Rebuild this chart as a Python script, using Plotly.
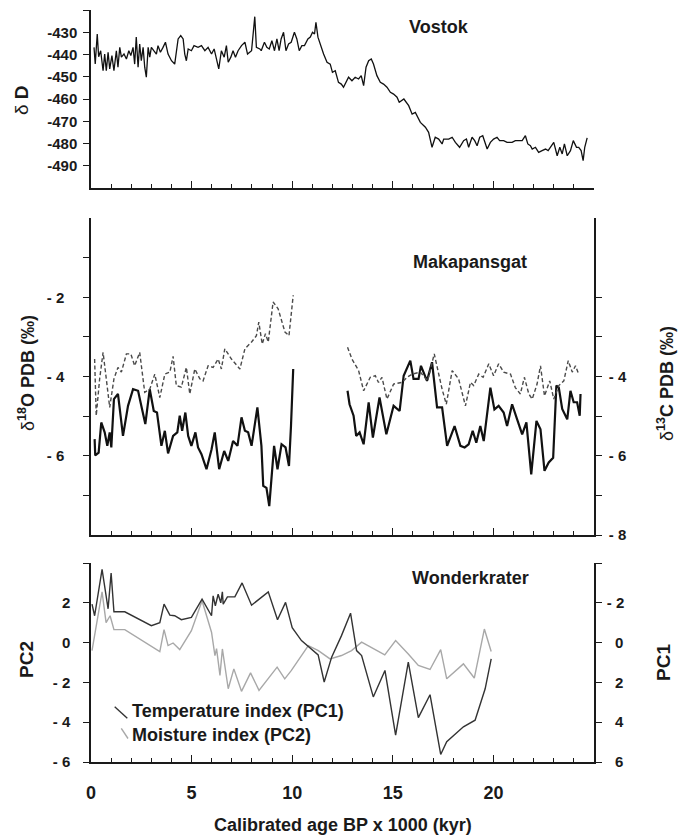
import plotly.graph_objects as go

# ---------------- Vostok (deltaD) ----------------
vostok_age = [0.15, 0.21, 0.31, 0.38, 0.48, 0.60, 0.68, 0.76, 0.85, 0.93, 1.04, 1.14, 1.26, 1.34, 1.43,
              1.51, 1.64, 1.76, 1.88, 1.98, 2.09, 2.17, 2.25, 2.34, 2.42, 2.50, 2.59, 2.67, 2.75, 2.84,
              2.92, 3.00, 3.12, 3.25, 3.33, 3.45, 3.58, 3.70, 3.83, 4.00, 4.16, 4.33, 4.46, 4.58, 4.66,
              4.74, 4.83, 4.99, 5.12, 5.32, 5.49, 5.66, 5.82, 5.99, 6.12, 6.23, 6.35, 6.48, 6.62, 6.73,
              6.82, 6.95, 7.06, 7.18, 7.31, 7.48, 7.65, 7.78, 7.98, 8.14, 8.22, 8.39, 8.46, 8.62, 8.74,
              8.86, 8.99, 9.12, 9.24, 9.35, 9.45, 9.57, 9.69, 9.82, 9.95, 10.11, 10.23, 10.35, 10.48,
              10.61, 10.78, 10.90, 11.01, 11.11, 11.18, 11.28, 11.39, 11.56, 11.73, 11.89, 12.00, 12.14,
              12.30, 12.44, 12.55, 12.67, 12.80, 12.97, 13.13, 13.30, 13.43, 13.55, 13.67, 13.80, 13.93,
              14.04, 14.21, 14.38, 14.54, 14.71, 14.88, 15.04, 15.21, 15.32, 15.55, 15.79, 15.96, 16.12,
              16.37, 16.62, 16.78, 16.95, 17.11, 17.28, 17.45, 17.53, 17.78, 17.95, 18.11, 18.32, 18.52,
              18.66, 18.77, 18.94, 19.07, 19.19, 19.32, 19.47, 19.69, 19.85, 20.01, 20.18, 20.31, 20.51,
              20.68, 20.93, 21.09, 21.26, 21.43, 21.59, 21.71, 21.84, 21.93, 22.09, 22.25, 22.42, 22.59,
              22.72, 22.87, 23.00, 23.17, 23.30, 23.42, 23.53, 23.67, 23.83, 23.97, 24.13, 24.24, 24.36,
              24.46, 24.54, 24.66]
vostok_dD = [-436.8, -444.3, -430.8, -441.0, -438.3, -447.3, -439.8, -447.3, -439.0, -446.5, -440.5, -447.3,
             -438.3, -445.7, -436.8, -441.2, -439.8, -442.0, -438.3, -440.5, -436.8, -444.3, -432.2, -445.7,
             -435.3, -442.8, -436.8, -445.7, -450.2, -436.8, -441.2, -436.8, -438.3, -439.8, -436.0, -439.0,
             -436.8, -434.5, -439.8, -442.8, -444.3, -433.0, -431.5, -433.0, -439.8, -442.8, -437.5, -438.3,
             -436.0, -436.8, -436.0, -438.3, -436.8, -439.8, -437.5, -441.2, -446.5, -438.3, -441.2, -436.0,
             -443.5, -441.2, -438.3, -441.2, -438.3, -436.0, -434.5, -439.8, -438.3, -423.0, -436.8, -437.5,
             -438.3, -434.5, -436.8, -437.5, -433.8, -438.3, -433.0, -438.3, -433.0, -430.0, -438.3, -435.3,
             -434.5, -430.0, -433.0, -438.3, -436.0, -436.0, -433.0, -432.2, -430.0, -430.8, -425.5, -432.2,
             -435.3, -439.8, -443.5, -444.3, -448.0, -447.3, -452.5, -453.3, -454.7, -452.5, -450.2, -451.8,
             -450.2, -451.0, -449.5, -454.0, -445.7, -442.8, -442.0, -444.3, -449.5, -452.5, -453.3, -454.7,
             -457.0, -457.8, -459.2, -461.5, -460.0, -463.0, -466.8, -466.0, -470.5, -472.7, -475.0, -481.7,
             -477.2, -478.0, -480.2, -478.0, -478.0, -477.2, -479.5, -481.7, -478.7, -478.0, -481.7, -477.2,
             -478.7, -481.0, -477.2, -476.5, -482.5, -479.5, -478.0, -477.2, -478.7, -478.7, -479.5, -479.5,
             -478.7, -478.7, -478.7, -476.5, -480.2, -481.0, -482.5, -481.7, -484.0, -483.2, -482.5, -483.2,
             -481.0, -479.5, -485.5, -481.7, -484.7, -480.2, -485.5, -483.2, -478.7, -481.7, -481.7, -483.2,
             -487.7, -481.7, -477.5]

# ---------------- Makapansgat ----------------
# delta18O (solid), two segments
mak_o_age_a = [0.18, 0.21, 0.38, 0.51, 0.68, 0.81, 0.93, 1.01, 1.14, 1.34, 1.59, 1.84, 2.09, 2.34, 2.50,
               2.70, 2.92, 3.12, 3.28, 3.50, 3.67, 3.83, 4.08, 4.29, 4.41, 4.53, 4.69, 4.83, 4.99, 5.19,
               5.32, 5.49, 5.74, 5.99, 6.15, 6.37, 6.62, 6.82, 7.06, 7.28, 7.48, 7.65, 7.81, 7.98, 8.27,
               8.47, 8.56, 8.72, 8.86, 8.97, 9.10, 9.27, 9.47, 9.67, 9.84, 9.94, 10.05]
mak_o_a = [-5.58, -5.99, -5.92, -5.16, -5.41, -5.75, -5.41, -5.79, -4.57, -4.44, -5.50, -4.74, -4.32, -4.36,
           -4.74, -5.20, -4.32, -4.87, -4.91, -5.75, -5.37, -5.94, -5.50, -5.41, -4.99, -5.37, -4.91, -5.50,
           -5.75, -5.41, -5.79, -5.96, -6.34, -5.84, -5.41, -6.34, -5.88, -6.13, -5.63, -5.75, -5.03, -5.37,
           -5.41, -5.75, -4.78, -5.75, -6.76, -6.81, -7.27, -6.60, -5.75, -6.34, -5.71, -5.79, -6.26, -5.25,
           -3.81]
mak_o_age_b = [12.75, 12.85, 13.05, 13.18, 13.35, 13.55, 13.80, 14.01, 14.34, 14.68, 15.04, 15.34, 15.54,
               15.87, 16.03, 16.28, 16.40, 16.70, 16.95, 17.20, 17.45, 17.70, 18.07, 18.36, 18.57, 18.77,
               18.97, 19.15, 19.35, 19.52, 19.85, 20.05, 20.26, 20.51, 20.68, 20.93, 21.18, 21.43, 21.64,
               21.88, 22.14, 22.34, 22.54, 22.75, 22.97, 23.13, 23.25, 23.42, 23.67, 23.83, 23.99, 24.16,
               24.29, 24.33]
mak_o_b = [-4.36, -4.70, -4.99, -5.50, -5.41, -5.71, -4.65, -5.54, -4.53, -5.46, -4.74, -4.87, -3.98, -3.60,
           -4.06, -4.06, -3.73, -4.11, -3.64, -4.78, -4.78, -5.75, -5.25, -5.75, -5.79, -5.71, -5.37, -5.67,
           -5.25, -5.63, -4.28, -4.83, -4.74, -4.91, -5.25, -4.70, -5.08, -5.46, -5.16, -6.47, -5.12, -5.33,
           -6.38, -6.17, -6.05, -4.23, -4.28, -4.82, -5.08, -4.36, -4.65, -4.65, -4.99, -4.44]
# delta13C (dashed), two segments
mak_c_age_a = [0.18, 0.26, 0.43, 0.60, 0.76, 0.93, 1.14, 1.34, 1.51, 1.76, 1.98, 2.17, 2.42, 2.67, 2.92,
               3.17, 3.42, 3.67, 3.92, 4.08, 4.24, 4.49, 4.74, 4.91, 5.16, 5.41, 5.57, 5.82, 6.07, 6.32,
               6.48, 6.65, 6.98, 7.40, 7.65, 7.98, 8.22, 8.34, 8.51, 8.67, 8.81, 9.05, 9.30, 9.64, 9.84,
               10.05]
mak_c_a = [-3.56, -4.99, -4.06, -3.39, -4.06, -4.78, -4.06, -3.77, -3.89, -3.43, -3.43, -3.73, -3.39, -4.40,
           -4.32, -3.94, -4.53, -3.94, -3.89, -3.49, -4.23, -4.27, -3.77, -4.44, -3.81, -4.06, -4.11, -3.73,
           -3.77, -3.56, -3.81, -3.30, -3.56, -3.81, -3.30, -3.13, -2.97, -2.63, -3.18, -2.92, -3.13, -2.12,
           -2.29, -2.88, -2.97, -1.95]
mak_c_age_b = [12.75, 12.97, 13.30, 13.55, 13.88, 14.13, 14.29, 14.46, 14.71, 15.04, 15.46, 15.71, 15.96,
               16.37, 16.73, 17.06, 17.45, 17.66, 17.95, 18.27, 18.61, 18.86, 19.02, 19.27, 19.49, 19.77,
               20.01, 20.26, 20.51, 20.85, 21.09, 21.34, 21.54, 21.76, 21.93, 22.17, 22.34, 22.54, 22.80,
               23.00, 23.25, 23.50, 23.72, 23.92, 24.08, 24.24]
mak_c_b = [-3.26, -3.56, -3.85, -4.36, -4.02, -3.98, -4.15, -4.02, -4.57, -4.19, -4.15, -4.02, -3.94, -3.89,
           -4.11, -3.43, -4.32, -4.70, -3.85, -4.06, -4.74, -4.15, -4.23, -3.94, -4.02, -3.68, -3.98, -3.68,
           -3.89, -3.94, -4.28, -4.44, -4.02, -4.44, -4.57, -4.19, -3.73, -4.49, -4.11, -4.57, -4.23, -4.11,
           -3.60, -3.89, -3.73, -3.94]

# ---------------- Wonderkrater ----------------
wk_temp_age = [0.05, 0.18, 0.55, 0.85, 1.00, 1.14, 1.68, 3.00, 3.42, 3.63, 3.92, 4.16, 4.49, 4.99, 5.52,
               5.99, 6.07, 6.18, 6.32, 6.45, 6.53, 6.57, 6.78, 7.15, 7.51, 7.98, 8.81, 9.27, 9.67, 10.00,
               10.46, 10.83, 11.29, 11.59, 11.96, 12.45, 12.90, 13.20, 13.45, 14.03, 14.61, 15.14, 15.77,
               16.27, 16.85, 17.38, 17.68, 18.51, 19.09, 19.59, 19.89]
wk_pc1 = [-1.93, -1.35, -3.68, -1.70, -3.50, -1.55, -1.55, -0.85, -1.00, -1.93, -1.38, -1.35, -1.15, -1.27,
          -2.18, -1.35, -2.35, -1.85, -2.43, -2.00, -2.55, -1.93, -2.30, -2.30, -3.00, -1.88, -2.55, -1.15,
          -2.02, -0.75, -0.10, 0.23, 0.62, 1.98, 0.73, -0.35, -1.48, 0.40, 0.65, 2.73, 1.40, 4.65, 0.98,
          3.77, 2.62, 5.62, 4.98, 4.23, 3.90, 2.32, 0.82]
wk_moist_age = [0.05, 0.18, 0.55, 0.75, 0.95, 1.14, 1.68, 3.42, 3.63, 3.83, 4.08, 4.41, 4.99, 5.52, 5.99,
                6.16, 6.24, 6.41, 6.53, 6.82, 7.10, 7.48, 7.93, 8.35, 9.25, 9.63, 9.96, 10.80, 11.30, 11.88,
                12.45, 12.95, 13.45, 14.60, 15.14, 15.77, 16.27, 16.85, 17.38, 17.68, 18.51, 19.05, 19.55,
                19.89]
wk_pc2 = [-0.40, 0.35, 2.55, 1.00, 1.35, 0.65, 0.65, -0.45, 0.65, -0.15, -0.02, -0.35, 0.60, 2.10, 0.52,
          -0.65, -0.30, -1.65, -0.32, -2.32, -1.32, -2.45, -1.52, -2.40, -1.23, -1.82, -1.40, -0.15, -0.40,
          -0.82, -0.65, -0.40, 0.02, -0.62, 0.10, -0.57, -1.15, -1.35, -0.35, -1.82, -1.07, -1.78, 0.68,
          -0.45]

# ---------------- Axis ticks / labels ----------------
vostok_tickvals = [-430, -440, -450, -460, -470, -480, -490]
vostok_ticktext = ["-430", "-440", "-450", "-460", "-470", "-480", "-490"]
vostok_minorvals = [-420]
mak_left_tickvals = [-2, -4, -6]
mak_left_ticktext = ["- 2", "- 4", "- 6"]
mak_left_minorvals = [-1, -3, -5, -7]
mak_right_tickvals = [-4, -6, -8]
mak_right_ticktext = ["- 4", "- 6", "- 8"]
mak_right_minorvals = [-2, -3, -5, -7]
pc2_tickvals = [2, 0, -2, -4, -6]
pc2_ticktext = ["2", "0", "- 2", "- 4", "- 6"]
pc2_minorvals = [4]
pc1_tickvals = [-2, 0, 2, 4, 6]
pc1_ticktext = ["- 2", "\u00a0\u00a00", "\u00a0\u00a02", "\u00a0\u00a04", "\u00a0\u00a06"]
pc1_minorvals = [-4]
x_tickvals = [0, 5, 10, 15, 20]
x_ticktext = ["0", "5", "10", "15", "20"]

FONT = "Liberation Sans"
INK = "#1a1a1a"

# plot area geometry (pixels)
W, H = 686, 837
L, R, T, B = 91, 92, 10, 75
PW, PH = W - L - R, H - T - B


def py(p):
    return (H - B - p) / PH


def px(p):
    return (p - L) / PW


fig = go.Figure()

fig.add_trace(go.Scatter(x=vostok_age, y=vostok_dD, mode="lines",
                         line=dict(color="#111111", width=1.3), xaxis="x", yaxis="y"))

fig.add_trace(go.Scatter(x=mak_c_age_a + [None] + mak_c_age_b, y=mak_c_a + [None] + mak_c_b, mode="lines",
                         line=dict(color="#4a4a4a", width=1.4, dash="4px,2.5px"), xaxis="x2", yaxis="y3",
                         connectgaps=False))
fig.add_trace(go.Scatter(x=mak_o_age_a + [None] + mak_o_age_b, y=mak_o_a + [None] + mak_o_b, mode="lines",
                         line=dict(color="#111111", width=2.2), xaxis="x2", yaxis="y2",
                         connectgaps=False))

fig.add_trace(go.Scatter(x=wk_moist_age, y=wk_pc2, mode="lines",
                         line=dict(color="#a8a8a8", width=1.4), xaxis="x3", yaxis="y4"))
fig.add_trace(go.Scatter(x=wk_temp_age, y=wk_pc1, mode="lines",
                         line=dict(color="#333333", width=1.4), xaxis="x3", yaxis="y5"))

xcommon = dict(range=[0, 25], showline=True, linecolor=INK, linewidth=1.5, ticks="inside",
               tickmode="array", tickvals=x_tickvals, ticklen=7, tickwidth=1.3, tickcolor=INK,
               minor=dict(tickmode="linear", tick0=0, dtick=1, ticks="inside", ticklen=4, tickwidth=1.1,
                          tickcolor=INK),
               showgrid=False, zeroline=False, fixedrange=True)

ycommon = dict(showline=True, linecolor=INK, linewidth=1.5, ticks="outside", ticklen=6, tickwidth=1.3,
               tickcolor=INK, showgrid=False, zeroline=False,
               tickfont=dict(family=FONT, size=15, color=INK, weight="bold"))


def yminor(vals):
    return dict(tickmode="array", tickvals=vals, ticks="outside", ticklen=6, tickwidth=1.3, tickcolor=INK,
                showgrid=False)


fig.update_layout(
    width=W, height=H, margin=dict(l=L, r=R, t=T, b=B),
    paper_bgcolor="white", plot_bgcolor="white", showlegend=False,
    font=dict(family=FONT, color=INK),
    xaxis=dict(xcommon, anchor="y", showticklabels=False),
    xaxis2=dict(xcommon, anchor="y2", showticklabels=False, matches="x"),
    xaxis3=dict(xcommon, anchor="y4", showticklabels=True, ticktext=x_ticktext,
                tickfont=dict(family=FONT, size=18, color=INK, weight="bold"), ticklabelstandoff=14,
                matches="x"),
    yaxis=dict(ycommon, domain=[py(188), py(10)], range=[-500, -420], tickmode="array",
               tickvals=vostok_tickvals, ticktext=vostok_ticktext, minor=yminor(vostok_minorvals),
               anchor="x", ticklabelstandoff=3),
    yaxis2=dict(ycommon, domain=[py(535), py(218)], range=[-8, 0], tickmode="array",
                tickvals=mak_left_tickvals, ticktext=mak_left_ticktext, minor=yminor(mak_left_minorvals),
                anchor="x2", ticklabelstandoff=16),
    yaxis3=dict(ycommon, domain=[py(535), py(218)], range=[-8, 0], tickmode="array",
                tickvals=mak_right_tickvals, ticktext=mak_right_ticktext, minor=yminor(mak_right_minorvals),
                anchor="x2", side="right", overlaying="y2", ticklabelstandoff=4),
    yaxis4=dict(ycommon, domain=[py(762), py(563)], range=[-6, 4], tickmode="array",
                tickvals=pc2_tickvals, ticktext=pc2_ticktext, minor=yminor(pc2_minorvals),
                anchor="x3", ticklabelstandoff=10),
    yaxis5=dict(ycommon, domain=[py(762), py(563)], range=[6, -4], tickmode="array",
                tickvals=pc1_tickvals, ticktext=pc1_ticktext, minor=yminor(pc1_minorvals),
                anchor="x3", side="right", overlaying="y4", ticklabelstandoff=2),
)

ann = []


def add_text(text, x, y, size=18, angle=0, xanchor="center", bold=True):
    ann.append(dict(text=("<b>%s</b>" % text) if bold else text, x=x, y=y, xref="paper", yref="paper",
                    showarrow=False, textangle=angle, xanchor=xanchor, yanchor="middle",
                    font=dict(family=FONT, size=size, color=INK)))


add_text("Vostok", px(438.5), py(27), size=18)
add_text("Makapansgat", px(470), py(262), size=18)
add_text("Wonderkrater", px(470), py(578), size=18)

add_text("<span style='font-weight:normal'>\u03b4</span> D", px(22), py(100), size=19, angle=-90)
add_text("<span style='font-weight:normal'>\u03b4</span><sup>18</sup>O PDB (\u2030)", px(26), py(373),
         size=18, angle=-90)
add_text("<span style='font-weight:normal'>\u03b4</span><sup>13</sup>C PDB (\u2030)", px(665), py(384),
         size=18, angle=-90)
add_text("PC2", px(26), py(660), size=19, angle=-90)
add_text("PC1", px(663), py(663), size=19, angle=-90)

add_text("Temperature index (PC1)", px(130), py(711), size=18, xanchor="left")
add_text("Moisture index (PC2)", px(130), py(735), size=18, xanchor="left")

add_text("Calibrated age BP x 1000 (kyr)", 0.5, py(825), size=18)

fig.update_layout(annotations=ann)

fig.update_layout(shapes=[
    dict(type="line", xref="paper", yref="paper", x0=px(114.7), y0=py(706.7), x1=px(127.3), y1=py(718.3),
         line=dict(color="#333333", width=1.4)),
    dict(type="line", xref="paper", yref="paper", x0=px(121.3), y0=py(728.3), x1=px(128.0), y1=py(738.5),
         line=dict(color="#a8a8a8", width=1.4)),
])

fig.write_html("out.html")
